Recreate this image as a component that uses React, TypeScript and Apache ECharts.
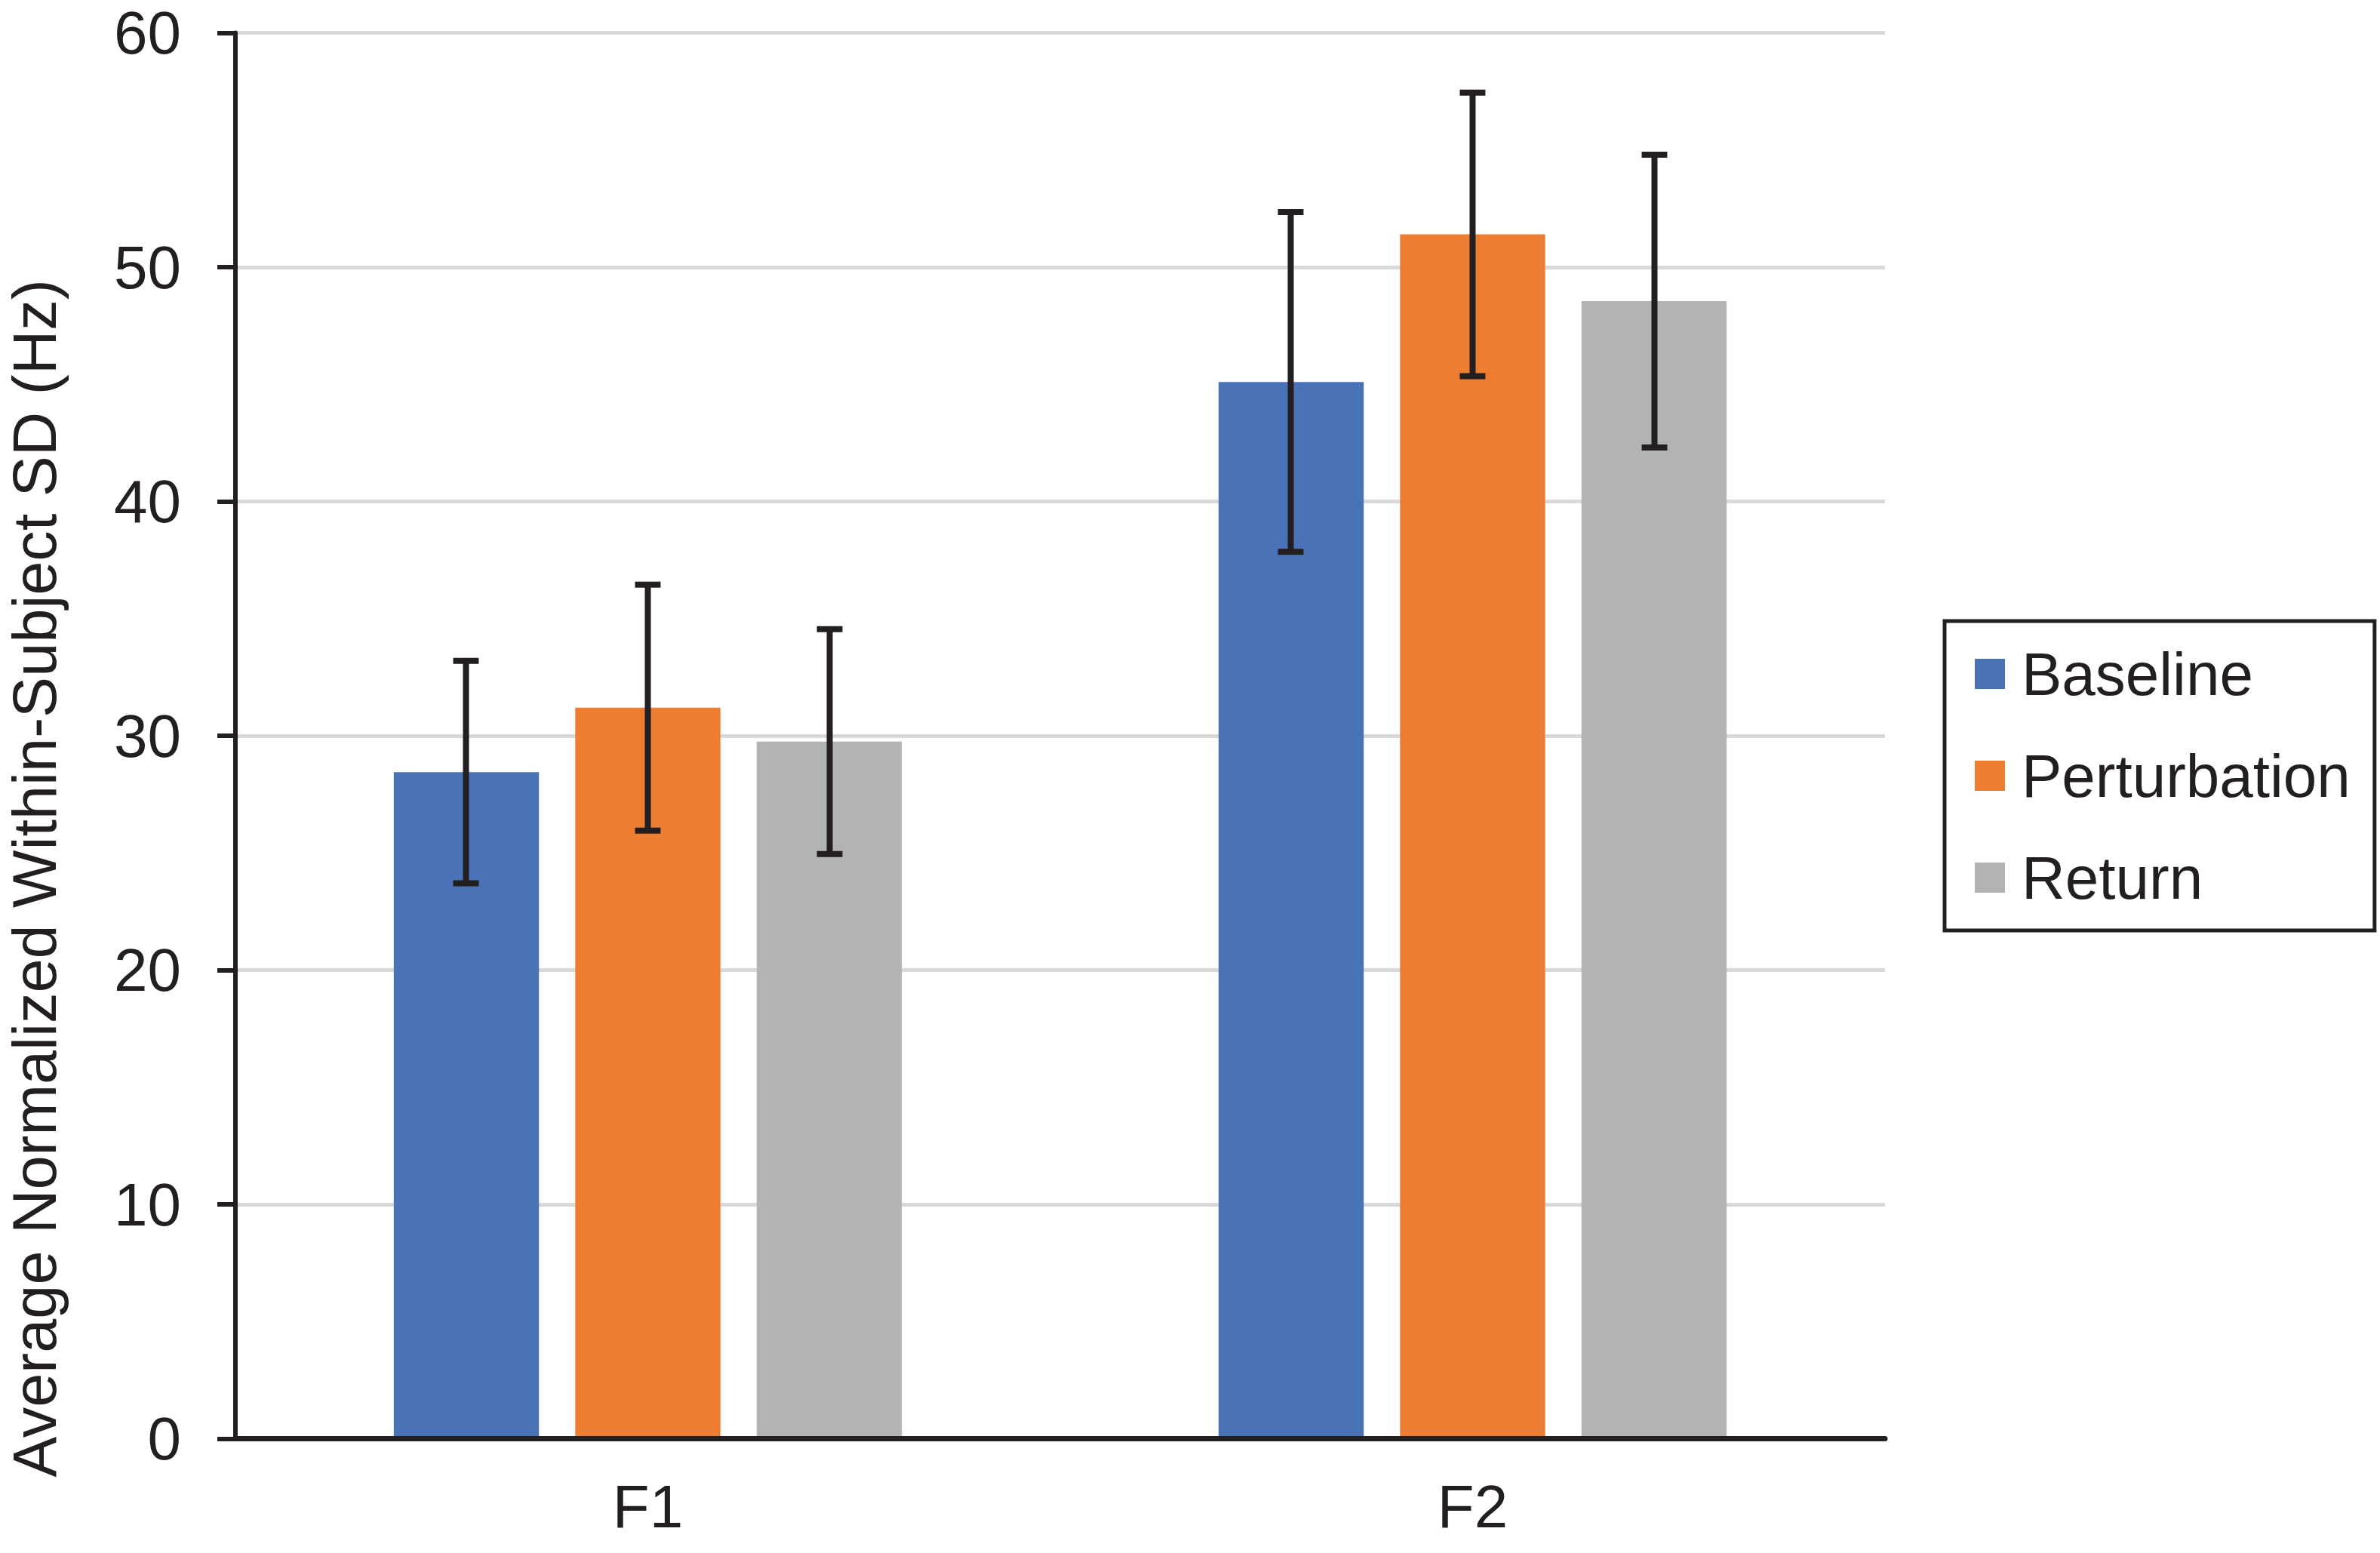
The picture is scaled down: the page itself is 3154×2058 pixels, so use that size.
import React, { useEffect, useRef } from "react";
import * as echarts from "echarts";

const categories = ["F1", "F2"];
const seriesNames = ["Baseline", "Perturbation", "Return"];
const baselineValues = [28.45, 45.1];
const perturbationValues = [31.2, 51.4];
const returnValues = [29.75, 48.55];
const baselineErr = [4.75, 7.25];
const perturbationErr = [5.25, 6.05];
const returnErr = [4.8, 6.25];
const yTicks = [0, 10, 20, 30, 40, 50, 60];
const yTitle = "Average Normalized Within-Subject SD (Hz)";

const colors = ["#4a72b6", "#ed7d31", "#b2b3b4"];
const ink = "#231f20";
const font = "'Liberation Sans', Arial, sans-serif";

export default function App() {
  const ref = useRef<HTMLDivElement>(null);

  useEffect(() => {
    if (!ref.current) return;
    const chart = echarts.init(ref.current, undefined, { renderer: "svg" });
    const values = [baselineValues, perturbationValues, returnValues];
    const errs = [baselineErr, perturbationErr, returnErr];

    const barSeries = seriesNames.map((name, i) => ({
      name,
      type: "bar",
      data: values[i],
      barWidth: "17.6%",
      barGap: "25%",
      itemStyle: { color: colors[i] },
      z: 2,
    }));

    const errSeries = seriesNames.map((name, i) => ({
      name: name + " error",
      type: "custom",
      z: 5,
      data: values[i].map((v, c) => [c, v - errs[i][c], v + errs[i][c]]),
      encode: { x: 0, y: [1, 2] },
      renderItem: (params: any, api: any) => {
        const cat = api.value(0);
        const lo = api.value(1);
        const hi = api.value(2);
        const band = api.size([1, 0])[0];
        const off = (i - 1) * band * 0.2205;
        const pLo = api.coord([cat, lo]);
        const pHi = api.coord([cat, hi]);
        const x = pLo[0] + off;
        const half = band * 0.0155;
        const style = { stroke: ink, lineWidth: 8 };
        return {
          type: "group",
          children: [
            { type: "line", shape: { x1: x, y1: pLo[1], x2: x, y2: pHi[1] }, style },
            { type: "line", shape: { x1: x - half, y1: pLo[1], x2: x + half, y2: pLo[1] }, style },
            { type: "line", shape: { x1: x - half, y1: pHi[1], x2: x + half, y2: pHi[1] }, style },
          ],
        };
      },
    }));

    chart.setOption({
      animation: false,
      backgroundColor: "#ffffff",
      textStyle: { fontFamily: font },
      grid: { left: 312, right: 656, top: 43.5, bottom: 151.5, containLabel: false },
      legend: {
        data: seriesNames,
        orient: "vertical",
        left: 2577,
        top: 823,
        padding: [30, 32, 30, 40],
        borderColor: ink,
        borderWidth: 5,
        borderRadius: 0,
        itemWidth: 40,
        itemHeight: 40,
        itemGap: 55,
        icon: "rect",
        textStyle: { fontSize: 80, lineHeight: 80, color: ink, fontFamily: font, padding: [0, 0, 0, 17] },
      },
      xAxis: {
        type: "category",
        data: categories,
        z: 6,
        axisLine: { show: true, lineStyle: { color: ink, width: 7 } },
        axisTick: { show: false },
        axisLabel: { fontSize: 80, color: ink, margin: 50, fontFamily: font },
      },
      yAxis: {
        type: "value",
        min: yTicks[0],
        max: yTicks[yTicks.length - 1],
        interval: yTicks[1] - yTicks[0],
        axisLine: { show: true, lineStyle: { color: ink, width: 6 } },
        axisTick: { show: true, inside: false, length: 24, lineStyle: { color: ink, width: 6 } },
        axisLabel: { fontSize: 80, color: ink, margin: 72, fontFamily: font },
        splitLine: { show: true, lineStyle: { color: "#d9d9d9", width: 5 } },
      },
      graphic: [
        {
          type: "text",
          x: 46,
          y: 1164,
          rotation: Math.PI / 2,
          style: {
            text: yTitle,
            fontSize: 81,
            fontFamily: font,
            fill: ink,
            align: "center",
            verticalAlign: "middle",
          },
        },
      ],
      series: [...barSeries, ...errSeries],
    });

    return () => chart.dispose();
  }, []);

  return (
    <div
      ref={ref}
      style={{ position: "fixed", left: 0, top: 0, width: 3154, height: 2058, background: "#fff" }}
    />
  );
}
